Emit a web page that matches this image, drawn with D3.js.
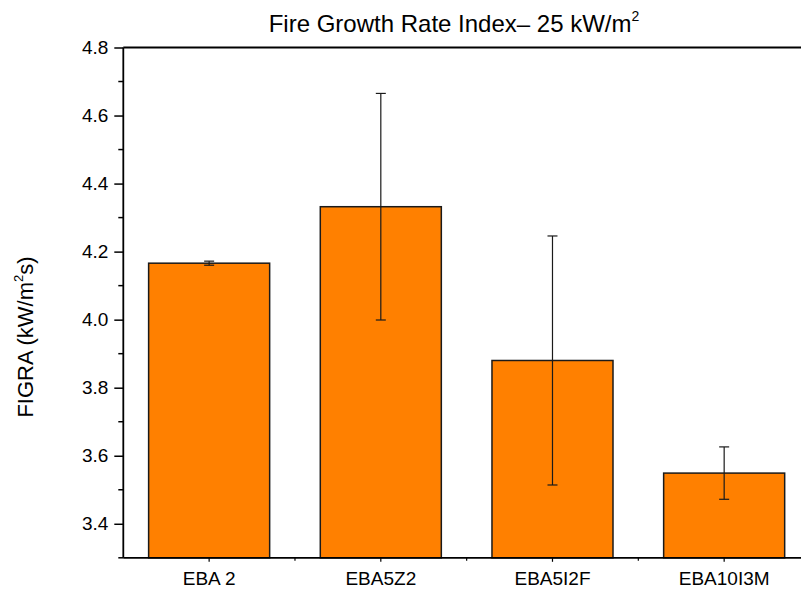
<!DOCTYPE html>
<html>
<head>
<meta charset="utf-8">
<script src="https://cdn.jsdelivr.net/npm/d3@7"></script>
<style>
  body { margin: 0; background: #fff; }
  text { font-family: "Liberation Sans", Arial, sans-serif; fill: #000; }
</style>
</head>
<body>
<div id="chart"></div>
<script>
const width = 801;
const height = 592;

// data
const samples = ["EBA 2", "EBA5Z2", "EBA5I2F", "EBA10I3M"];
const figra = [4.166, 4.332, 3.88, 3.549];
const figraErr = [0.006, 0.333, 0.366, 0.077];
const yTicks = [3.4, 3.6, 3.8, 4.0, 4.2, 4.4, 4.6, 4.8];
const yMinorTicks = [3.3, 3.5, 3.7, 3.9, 4.1, 4.3, 4.5, 4.7];

const plotLeft = 123.3;
const plotRight = 810;
const plotTop = 47.5;
const plotBottom = 557.8;

const svg = d3
  .select("#chart")
  .append("svg")
  .attr("width", width)
  .attr("height", height);

const x = d3
  .scaleBand()
  .domain(samples)
  .range([plotLeft, plotRight])
  .paddingInner(0.295)
  .paddingOuter(0.1475);

const y = d3.scaleLinear().domain([3.3, 4.8]).range([plotBottom, plotTop]);

const data = samples.map((s, i) => ({ name: s, v: figra[i], e: figraErr[i] }));

// bars
svg
  .selectAll("rect.bar")
  .data(data)
  .join("rect")
  .attr("class", "bar")
  .attr("x", (d) => x(d.name))
  .attr("y", (d) => y(d.v))
  .attr("width", x.bandwidth())
  .attr("height", (d) => y(3.3) - y(d.v))
  .attr("fill", "#ff8000")
  .attr("stroke", "#1a1a1a")
  .attr("stroke-width", 1.5);

// error bars
const cx = (d) => x(d.name) + x.bandwidth() / 2;
const errs = svg.append("g").attr("stroke", "#1a1a1a").attr("stroke-width", 1.2);
errs
  .selectAll("line.v")
  .data(data)
  .join("line")
  .attr("x1", cx)
  .attr("x2", cx)
  .attr("y1", (d) => y(d.v + d.e))
  .attr("y2", (d) => y(d.v - d.e));
errs
  .selectAll("line.top")
  .data(data)
  .join("line")
  .attr("x1", (d) => cx(d) - 5)
  .attr("x2", (d) => cx(d) + 5)
  .attr("y1", (d) => y(d.v + d.e))
  .attr("y2", (d) => y(d.v + d.e));
errs
  .selectAll("line.bot")
  .data(data)
  .join("line")
  .attr("x1", (d) => cx(d) - 5)
  .attr("x2", (d) => cx(d) + 5)
  .attr("y1", (d) => y(d.v - d.e))
  .attr("y2", (d) => y(d.v - d.e));

// left axis
const yAxis = svg
  .append("g")
  .attr("transform", `translate(${plotLeft},0)`)
  .call(d3.axisLeft(y).tickValues(yTicks).tickFormat(d3.format(".1f")).tickSize(9).tickPadding(6));
yAxis.select(".domain").remove();
yAxis.selectAll("line").attr("stroke", "#000").attr("stroke-width", 1.5);
yAxis.selectAll("text").style("font-size", "19px");

svg
  .append("g")
  .selectAll("line")
  .data(yMinorTicks)
  .join("line")
  .attr("x1", plotLeft - 5)
  .attr("x2", plotLeft)
  .attr("y1", (d) => y(d))
  .attr("y2", (d) => y(d))
  .attr("stroke", "#000")
  .attr("stroke-width", 1.5);

// bottom axis
const xAxis = svg
  .append("g")
  .attr("transform", `translate(0,${plotBottom})`)
  .call(d3.axisBottom(x).tickSize(4).tickPadding(10));
xAxis.select(".domain").remove();
xAxis.selectAll("line").attr("stroke", "#000").attr("stroke-width", 1.2);
xAxis.selectAll("text").style("font-size", "19px");

// category boundary ticks
svg
  .append("g")
  .selectAll("line")
  .data(samples.slice(1))
  .join("line")
  .attr("x1", (d) => x(d) - (x.step() - x.bandwidth()) / 2)
  .attr("x2", (d) => x(d) - (x.step() - x.bandwidth()) / 2)
  .attr("y1", plotBottom)
  .attr("y2", plotBottom + 3)
  .attr("stroke", "#000")
  .attr("stroke-width", 1.2);

// frame lines
svg.append("line").attr("x1", plotLeft).attr("x2", plotRight).attr("y1", plotBottom).attr("y2", plotBottom)
  .attr("stroke", "#000").attr("stroke-width", 1.8);
svg.append("line").attr("x1", plotLeft).attr("x2", plotRight).attr("y1", plotTop).attr("y2", plotTop)
  .attr("stroke", "#000").attr("stroke-width", 1.8);
svg.append("line").attr("x1", plotLeft).attr("x2", plotLeft).attr("y1", plotTop).attr("y2", plotBottom)
  .attr("stroke", "#000").attr("stroke-width", 1.8);

// title
const title = svg
  .append("text")
  .attr("x", 454)
  .attr("y", 32)
  .attr("text-anchor", "middle")
  .style("font-size", "24px");
title.append("tspan").text("Fire Growth Rate Index\u2013 25 kW/m");
title.append("tspan").attr("dy", -11).style("font-size", "14px").text("2");

// y label
const ylab = svg
  .append("text")
  .attr("transform", "translate(33,337) rotate(-90)")
  .attr("text-anchor", "middle")
  .style("font-size", "22px");
ylab.append("tspan").text("FIGRA (kW/m");
ylab.append("tspan").attr("dy", -10).style("font-size", "13px").text("2");
ylab.append("tspan").attr("dy", 10).text("s)");
</script>
</body>
</html>
